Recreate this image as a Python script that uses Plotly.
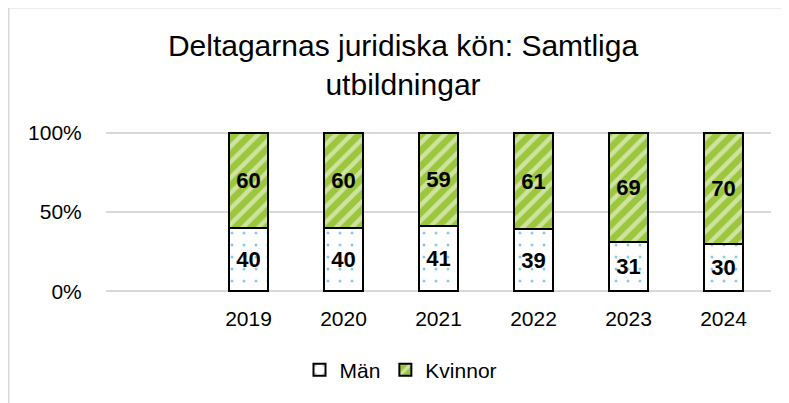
import plotly.graph_objects as go

years = ["2019", "2020", "2021", "2022", "2023", "2024"]
man = [40, 40, 41, 39, 31, 30]
kvinnor = [60, 60, 59, 61, 69, 70]
y_ticks = [0, 50, 100]
y_tick_labels = ["0%", "50%", "100%"]

GREEN = "#9bc63d"
BLUE = "#1596d8"
FONT = "Liberation Sans, Arial, sans-serif"

# figure is placed at (8, 8) by the page's body margin
W, H = 781, 395
L, R, T, B = 98, 18, 123.42, 110.42
PW, PH = W - L - R, H - T - B

fig = go.Figure()
fig.add_trace(go.Bar(
    x=years, y=man, name="Män",
    marker=dict(color="white", line=dict(color="black", width=2),
                pattern=dict(shape=".", fgcolor=BLUE, bgcolor="white", size=12, solidity=0.05, fillmode="overlay")),
    text=man, texttemplate="%{text}", textposition="inside", insidetextanchor="middle",
    textfont=dict(family=FONT, size=22, color="black", weight="bold"),
    constraintext="none", width=0.41,
))
fig.add_trace(go.Bar(
    x=years, y=kvinnor, name="Kvinnor",
    marker=dict(color=GREEN, line=dict(color="black", width=2),
                pattern=dict(shape="/", fgcolor="white", bgcolor=GREEN, size=11, solidity=0.4, fillmode="overlay")),
    text=kvinnor, texttemplate="%{text}", textposition="inside", insidetextanchor="middle",
    textfont=dict(family=FONT, size=22, color="black", weight="bold"),
    constraintext="none", width=0.41,
))

fig.update_layout(
    barmode="stack",
    width=W, height=H,
    margin=dict(l=L, r=R, t=T, b=B, pad=0),
    paper_bgcolor="white", plot_bgcolor="white",
    font=dict(family=FONT, size=21, color="#000000"),
    title=dict(text="Deltagarnas juridiska kön: Samtliga<br>utbildningar",
               font=dict(family=FONT, size=30, color="black"),
               xref="container", x=395 / W, xanchor="center",
               yref="container", y=1 - 48 / H, yanchor="top"),
    showlegend=True,
    legend=dict(orientation="h", xref="container", x=393 / W, xanchor="center",
                yref="container", y=(H - 362) / H, yanchor="middle",
                font=dict(family=FONT, size=21, color="black"), itemwidth=30,
                traceorder="normal"),
    shapes=[dict(type="rect", xref="paper", yref="paper",
                 x0=(0.75 - L) / PW, x1=(W + 20 - L) / PW,
                 y0=-(B + 20) / PH, y1=(H - B - 0.75) / PH,
                 line=dict(color="#d9d9d9", width=1.5), fillcolor="rgba(0,0,0,0)", layer="below")],
)
fig.update_xaxes(type="category", range=[-1.5, 5.5], showgrid=False, showline=False,
                 ticks="outside", ticklen=7, tickcolor="rgba(0,0,0,0)",
                 tickfont=dict(family=FONT, size=21, color="black"))
fig.update_yaxes(range=[-1, 101], tickvals=y_ticks, ticktext=y_tick_labels,
                 showgrid=True, gridcolor="#d9d9d9", gridwidth=1.5, zeroline=False,
                 ticks="outside", ticklen=19, tickcolor="rgba(0,0,0,0)",
                 tickfont=dict(family=FONT, size=21, color="black"))

fig.write_html("out.html")
